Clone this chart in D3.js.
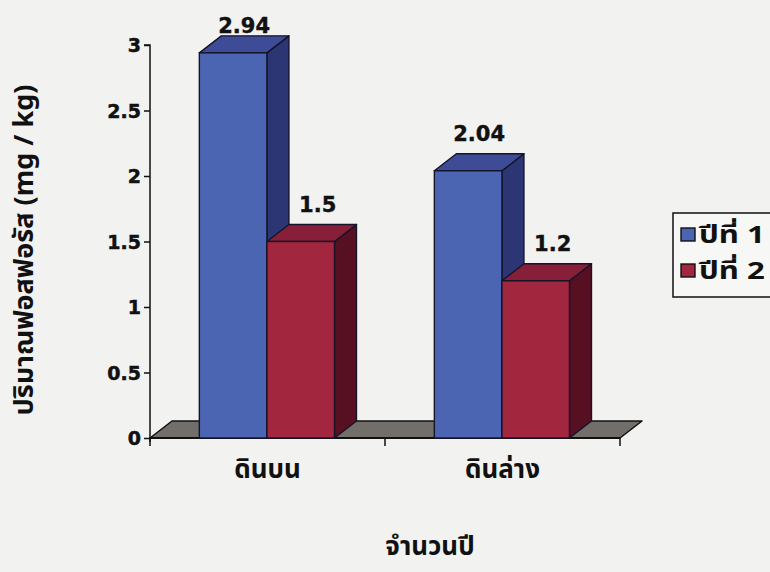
<!DOCTYPE html>
<html>
<head>
<meta charset="utf-8">
<script src="https://cdn.jsdelivr.net/npm/d3@7/dist/d3.min.js"></script>
<style>
  html, body { margin: 0; padding: 0; background: #f3f3f1; }
  svg { display: block; }
</style>
</head>
<body>
<div id="chart"></div>
<script>
// Phosphorus content by soil layer, two years
const categories = ["ดินบน", "ดินล่าง"];
const seriesNames = ["ปีที่ 1", "ปีที่ 2"];
const year1 = [2.94, 2.04];
const year2 = [1.5, 1.2];
const yTicks = [0, 0.5, 1, 1.5, 2, 2.5, 3];
const yTitle = "ปริมาณฟอสฟอรัส (mg / kg)";
const xTitle = "จำนวนปี";

const W = 770, H = 572;
const numFont = "'DejaVu Sans', sans-serif";
const thaiFont = "'Noto Sans Thai', 'Loma', 'Garuda', 'Norasi', 'Tlwg Typo', 'DejaVu Sans', sans-serif";

const palette = [
  { front: "#4c65b2", top: "#3e4c98", side: "#2d3675" },
  { front: "#a3263f", top: "#861f37", side: "#571021" }
];

// 3-D depth offset of the extruded bars and floor
const DX = 22, DY = -17;

const svg = d3.select("#chart").append("svg")
  .attr("width", W).attr("height", H);

svg.append("rect").attr("width", W).attr("height", H).attr("fill", "#f2f2f0");

const x0 = 150, x1 = 620;
const y = d3.scaleLinear().domain([0, 3]).range([438, 45]);
const xCat = d3.scaleBand().domain(categories).range([x0, x1]).padding(0);
const xSer = d3.scaleBand().domain(seriesNames)
  .range([xCat.bandwidth() * 0.21, xCat.bandwidth() * 0.785]).padding(0);

const rows = categories.map((c, i) => ({
  cat: c,
  values: [year1[i], year2[i]]
}));

// Floor
const y0 = y(0);
svg.append("polygon")
  .attr("points", [[x0, y0], [x1, y0], [x1 + DX, y0 + DY], [x0 + DX, y0 + DY]].map(p => p.join(",")).join(" "))
  .attr("fill", "#726e6a")
  .attr("stroke", "#111")
  .attr("stroke-width", 1.5)
  .attr("stroke-linejoin", "round");

// Y axis
const yAxis = d3.axisLeft(y).tickValues(yTicks).tickSize(6).tickPadding(3)
  .tickFormat(d => d3.format("")(d));
const gY = svg.append("g").attr("transform", `translate(${x0},0)`).call(yAxis);
gY.select(".domain").attr("stroke", "#111").attr("stroke-width", 1.5)
  .attr("d", `M-6,${y(3)}H0V${y0 + 4}`);
gY.selectAll(".tick line").attr("stroke", "#111").attr("stroke-width", 1.5);
gY.selectAll(".tick text")
  .attr("fill", "#111")
  .attr("stroke", "#111")
  .attr("stroke-width", 0.5)
  .attr("font-family", numFont)
  .attr("font-weight", "bold")
  .attr("font-size", 19)
  .attr("dy", "0.36em");

// X axis (category boundary ticks and labels)
const bounds = [x0, ...categories.map(c => xCat(c) + xCat.bandwidth())];
svg.append("g").selectAll("line").data(bounds).join("line")
  .attr("x1", d => d).attr("x2", d => d)
  .attr("y1", y0).attr("y2", y0 + 8)
  .attr("stroke", "#111").attr("stroke-width", 1.5);
svg.append("line")
  .attr("x1", x0).attr("x2", x1).attr("y1", y0).attr("y2", y0)
  .attr("stroke", "#111").attr("stroke-width", 2);

svg.append("g").selectAll("text").data(categories).join("text")
  .attr("x", d => xCat(d) + xCat.bandwidth() / 2)
  .attr("y", 478)
  .attr("text-anchor", "middle")
  .attr("font-family", thaiFont)
  .attr("font-weight", "bold")
  .attr("font-size", 26)
  .attr("fill", "#111")
  .text(d => d);

// Bars
const groups = svg.append("g").selectAll("g").data(rows).join("g")
  .attr("transform", d => `translate(${xCat(d.cat)},0)`);

groups.each(function (row) {
  const g = d3.select(this);
  row.values.forEach((v, si) => {
    const bx = xSer(seriesNames[si]);
    const bw = xSer.bandwidth();
    const yt = y(v);
    const col = palette[si];
    const stroke = "#15142a";
    // side face
    g.append("polygon")
      .attr("points", [[bx + bw, yt], [bx + bw + DX, yt + DY], [bx + bw + DX, y0 + DY], [bx + bw, y0]].map(p => p.join(",")).join(" "))
      .attr("fill", col.side).attr("stroke", stroke).attr("stroke-width", 1.4).attr("stroke-linejoin", "round");
    // top face
    g.append("polygon")
      .attr("points", [[bx, yt], [bx + bw, yt], [bx + bw + DX, yt + DY], [bx + DX, yt + DY]].map(p => p.join(",")).join(" "))
      .attr("fill", col.top).attr("stroke", stroke).attr("stroke-width", 1.4).attr("stroke-linejoin", "round");
    // front face
    g.append("rect")
      .attr("x", bx).attr("y", yt).attr("width", bw).attr("height", y0 - yt)
      .attr("fill", col.front).attr("stroke", stroke).attr("stroke-width", 1.4);
    // value label
    g.append("text")
      .attr("x", bx + (bw + DX) / 2 + (si === 1 ? 6 : 0))
      .attr("y", Math.max(33, yt + DY - 13))
      .attr("text-anchor", "middle")
      .attr("font-family", numFont)
      .attr("font-weight", "bold")
      .attr("font-size", 21)
      .attr("stroke", "#111")
      .attr("stroke-width", 0.4)
      .attr("fill", "#111")
      .text(v);
  });
});

// Axis titles
svg.append("text")
  .attr("transform", "translate(33,250) rotate(-90)")
  .attr("text-anchor", "middle")
  .attr("font-family", thaiFont)
  .attr("font-weight", "bold")
  .attr("font-size", 27)
  .attr("fill", "#111")
  .text(yTitle);

svg.append("text")
  .attr("x", 430).attr("y", 555)
  .attr("text-anchor", "middle")
  .attr("font-family", thaiFont)
  .attr("font-weight", "bold")
  .attr("font-size", 26)
  .attr("fill", "#111")
  .text(xTitle);

// Legend
const lg = svg.append("g").attr("transform", "translate(673,213)");
lg.append("rect").attr("x", 0).attr("y", 0).attr("width", 110).attr("height", 84)
  .attr("fill", "#f7f7f5").attr("stroke", "#111").attr("stroke-width", 1.5);
const items = lg.selectAll("g").data(seriesNames).join("g")
  .attr("transform", (d, i) => `translate(8,${15 + i * 36})`);
items.append("rect").attr("width", 14).attr("height", 13)
  .attr("fill", (d, i) => palette[i].front).attr("stroke", "#111").attr("stroke-width", 1.4);
items.append("text")
  .attr("transform", "translate(18,15) scale(1.3,1)")
  .attr("font-family", thaiFont)
  .attr("font-weight", "bold")
  .attr("font-size", 24)
  .attr("fill", "#111")
  .text(d => d);
</script>
</body>
</html>
